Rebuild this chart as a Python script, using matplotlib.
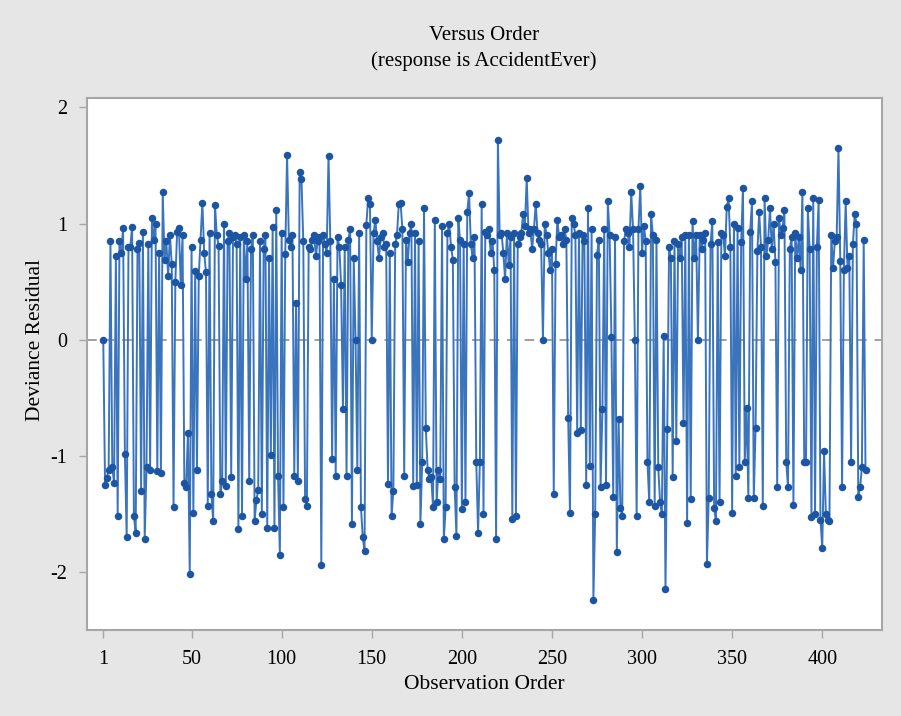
import numpy as np
import matplotlib.pyplot as plt

# --------------------------------------------------------
# Data: deviance residuals, by order
# --------------------------------------------------------
resid_001_100 = [
    0.00, -1.25, -1.19, -1.12, 0.85, -1.10, -1.23, 0.72, -1.52, 0.85,
    0.75, 0.96, -0.98, -1.70, 0.80, 0.80, 0.97, -1.52, -1.66, 0.78,
    0.83, -1.30, 0.93, -1.72, -1.10, 0.82, -1.12, 1.05, 0.86, 1.00,
    -1.13, 0.75, -1.15, 1.27, 0.69, 0.85, 0.55, 0.90, 0.65, -1.44,
    0.50, 0.93, 0.96, 0.47, 0.90, -1.23, -1.27, -0.80, -2.02, 0.80,
    -1.49, 0.59, -1.12, 0.55, 0.86, 1.18, 0.75, 0.58, -1.43, 0.92,
    -1.33, -1.56, 1.16, 0.90, 0.81, -1.33, -1.22, 1.00, -1.26, 0.85,
    0.92, -1.18, 0.88, 0.90, 0.82, -1.63, 0.88, -1.52, 0.90, 0.52,
    0.85, -1.22, 0.78, 0.90, -1.56, -1.38, -1.29, 0.85, -1.50, 0.78,
    0.90, -1.62, 0.70, -0.99, 0.97, -1.62, 1.12, -1.17, -1.85, 0.92,
]
resid_101_200 = [
    -1.44, 0.74, 1.59, 0.86, 0.80, 0.90, -1.17, 0.32, -1.22, 1.44,
    1.38, 0.85, -1.37, -1.43, 0.80, 0.78, 0.86, 0.90, 0.72, 0.85,
    0.88, -1.94, 0.90, 0.82, 0.75, 1.58, 0.85, -1.03, 0.52, -1.17,
    0.88, 0.80, 0.47, -0.60, 0.80, -1.17, 0.86, 0.95, -1.59, 0.70,
    0.00, -1.12, 0.92, -1.44, -1.70, -1.82, 0.99, 1.22, 1.17, 0.00,
    0.92, 1.03, 0.85, 0.70, 0.88, 0.92, 0.80, 0.82, -1.24, 0.75,
    -1.52, -1.30, 0.82, 0.90, 1.17, 1.18, 0.95, -1.17, 0.86, 0.67,
    0.92, 1.00, -1.26, 0.92, -1.25, 0.85, -1.59, -1.05, 1.13, -0.76,
    -1.12, -1.20, -1.18, -1.44, 1.03, -1.40, -1.12, -1.20, 0.98, -1.72,
    -1.44, 0.92, 1.00, 0.80, 0.69, -1.27, -1.69, 1.05, 0.86, -1.46,
]
resid_201_300 = [
    0.82, -1.40, 1.10, 1.26, 0.82, 0.70, 0.88, -1.05, -1.66, -1.05,
    1.17, -1.50, 0.93, 0.90, 0.95, 0.75, 0.85, 0.60, -1.72, 1.72,
    0.90, 0.92, 0.75, 0.52, 0.92, 0.64, 0.88, -1.54, 0.92, -1.52,
    0.82, 0.88, 0.92, 1.08, 0.98, 1.39, 0.92, 0.95, 0.78, 0.95,
    1.17, 0.92, 0.86, 0.82, 0.00, 1.00, 0.90, 0.75, 0.60, 0.78,
    -1.33, 0.65, 1.03, 0.88, 0.90, 0.82, 0.95, 0.86, -0.67, -1.49,
    1.05, 1.00, 0.90, -0.80, 0.92, -0.78, 0.90, 0.85, -1.25, 1.13,
    -1.09, 0.95, -2.24, -1.50, 0.73, 0.86, -1.27, -0.60, 0.95, -1.25,
    1.19, 0.90, 0.02, -1.35, 0.88, -1.83, -0.68, -1.45, -1.52, 0.85,
    0.95, 0.92, 0.80, 1.27, 0.95, 0.00, -1.52, 0.95, 1.32, 0.75,
]
resid_301_424 = [
    0.98, 0.85, -1.05, -1.40, 1.08, 0.90, -1.43, 0.86, -1.10, -1.40,
    -1.50, 0.03, -2.15, -0.77, 0.80, 0.70, -1.18, 0.85, -0.87, 0.82,
    0.70, 0.88, -0.72, 0.90, -1.58, 0.90, -1.37, 1.02, 0.70, 0.90,
    0.00, 0.90, 0.78, 0.86, 0.92, -1.93, -1.36, 0.82, 1.02, -1.45,
    -1.56, 0.84, -1.40, 0.92, 0.90, 0.72, 1.14, 1.22, 0.80, -1.49,
    1.00, -1.17, 0.96, -1.10, 0.84, 1.31, -1.05, -0.59, -1.36, 0.93,
    1.19, -1.36, -0.76, 0.76, 1.10, 0.80, -1.43, 1.22, 0.72, 0.86,
    1.13, 0.78, 1.00, 0.67, -1.27, 1.05, 0.90, 0.96, 1.12, -1.05,
    -1.27, 0.78, 0.88, -1.42, 0.92, 0.70, 0.88, 0.60, 1.27, -1.05,
    -1.05, 1.13, 0.78, -1.53, 1.22, -1.50, 0.80, 1.20, -1.55, -1.79,
    -0.96, -1.50, -1.55, -1.56, 0.90, 0.62, 0.85, 0.88, 1.65, 0.68,
    -1.27, 0.60, 1.19, 0.62, 0.72, -1.05, 0.82, 1.08, 1.00, -1.35,
    -1.27, -1.10, 0.86, -1.12,
]

x_ticks = [1, 50, 100, 150, 200, 250, 300, 350, 400]
y_ticks = [-2, -1, 0, 1, 2]

resid = np.array(resid_001_100 + resid_101_200 + resid_201_300 + resid_301_424)
order = np.arange(1, len(resid) + 1)

# --------------------------------------------------------
# Plot
# --------------------------------------------------------
plt.rcParams['font.family'] = ['Liberation Serif', 'DejaVu Serif']
plt.rcParams['axes.unicode_minus'] = False

bg = '#e6e6e6'
frame = '#a6a6a6'

fig = plt.figure(figsize=(9.01, 7.16), dpi=100, facecolor=bg)
ax = fig.add_axes([0.0966, 0.120, 0.882, 0.743])
ax.set_facecolor('white')

ax.axhline(0, color='#a0a0a0', linestyle=(0, (5, 4)), linewidth=1.4, zorder=1)
ax.plot(order, resid, color='#3a74bd', linewidth=1.4, zorder=2)
ax.plot(order, resid, 'o', color='#1c55a3', markersize=5.4,
        markeredgewidth=0, zorder=3)

ax.set_xlim(-8, 433)
ax.set_ylim(-2.5, 2.08)
ax.set_xticks(x_ticks)
ax.set_yticks(y_ticks)
ax.tick_params(direction='out', length=6, width=1, color=frame,
               labelsize=14.5, pad=8)
for s in ax.spines.values():
    s.set_color(frame)
    s.set_linewidth(1.5)

ax.set_xlabel('Observation Order', fontsize=15.5, labelpad=5)
ax.set_ylabel('Deviance Residual', fontsize=15.5)
ax.yaxis.set_label_coords(-0.053, 0.545)

fig.text(0.537, 0.951, 'Versus Order', ha='center', va='center', fontsize=15)
fig.text(0.537, 0.914, '(response is AccidentEver)', ha='center', va='center',
         fontsize=15)

fig.savefig('out.png', dpi=100, facecolor=bg)
